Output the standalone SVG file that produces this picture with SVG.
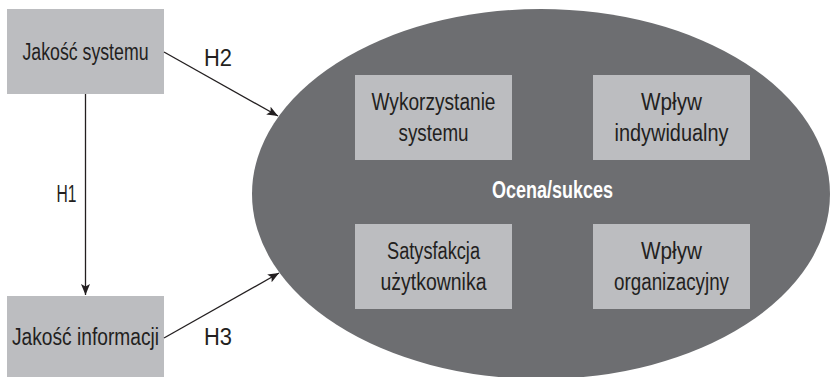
<svg xmlns="http://www.w3.org/2000/svg" width="830" height="377" viewBox="0 0 830 377">
<style>
.box{fill:#bcbdc0;}
.t{font-family:"Liberation Sans",Arial,sans-serif;font-size:23px;fill:#231f20;text-anchor:middle;}
.w{font-family:"Liberation Sans",Arial,sans-serif;font-size:23px;font-weight:bold;fill:#ffffff;text-anchor:middle;}
.c{stroke:#231f20;stroke-width:1.3;fill:none;marker-end:url(#ah);}
</style>
<defs>
<marker id="ah" markerUnits="userSpaceOnUse" markerWidth="12" markerHeight="10" refX="11" refY="5" orient="auto">
<path d="M0,0.5 L11,5 L0,9.5 L2.5,5 z" fill="#231f20"/>
</marker>
</defs>
<rect width="830" height="377" fill="#ffffff"/>
<g id="ocena">
<ellipse cx="541" cy="194" rx="289" ry="185" fill="#6d6e71"/>
<text class="w" x="552.5" y="198" textLength="121" lengthAdjust="spacingAndGlyphs">Ocena/sukces</text>
</g>
<g id="wykorzystanie">
<rect class="box" x="355" y="75" width="157" height="85"/>
<text class="t" x="433.5" y="110" textLength="124" lengthAdjust="spacingAndGlyphs">Wykorzystanie</text>
<text class="t" x="433.5" y="141" textLength="70" lengthAdjust="spacingAndGlyphs">systemu</text>
</g>
<g id="wplyw-indywidualny">
<rect class="box" x="593" y="75" width="157" height="85"/>
<text class="t" x="671.5" y="110" textLength="61" lengthAdjust="spacingAndGlyphs">Wpływ</text>
<text class="t" x="671.5" y="141" textLength="114" lengthAdjust="spacingAndGlyphs">indywidualny</text>
</g>
<g id="satysfakcja">
<rect class="box" x="355" y="224" width="157" height="85"/>
<text class="t" x="433.5" y="259" textLength="93" lengthAdjust="spacingAndGlyphs">Satysfakcja</text>
<text class="t" x="433.5" y="290" textLength="106" lengthAdjust="spacingAndGlyphs">użytkownika</text>
</g>
<g id="wplyw-organizacyjny">
<rect class="box" x="593" y="224" width="157" height="85"/>
<text class="t" x="671.5" y="259" textLength="61" lengthAdjust="spacingAndGlyphs">Wpływ</text>
<text class="t" x="671.5" y="290" textLength="115" lengthAdjust="spacingAndGlyphs">organizacyjny</text>
</g>
<g id="jakosc-systemu">
<rect class="box" x="7" y="9" width="157" height="85"/>
<text class="t" x="85.5" y="60" textLength="126" lengthAdjust="spacingAndGlyphs">Jakość systemu</text>
</g>
<g id="jakosc-informacji">
<rect class="box" x="7" y="296" width="157" height="85"/>
<text class="t" x="85.5" y="345" textLength="147" lengthAdjust="spacingAndGlyphs">Jakość informacji</text>
</g>
<g id="connectors">
<line class="c" x1="85.5" y1="94" x2="85.5" y2="295"/>
<line class="c" x1="164" y1="52" x2="278" y2="116"/>
<line class="c" x1="164" y1="338" x2="279" y2="273"/>
<text class="t" x="66.5" y="202" textLength="20" lengthAdjust="spacingAndGlyphs">H1</text>
<text class="t" x="218" y="66" textLength="28" lengthAdjust="spacingAndGlyphs">H2</text>
<text class="t" x="218" y="345" textLength="28" lengthAdjust="spacingAndGlyphs">H3</text>
</g>
</svg>
